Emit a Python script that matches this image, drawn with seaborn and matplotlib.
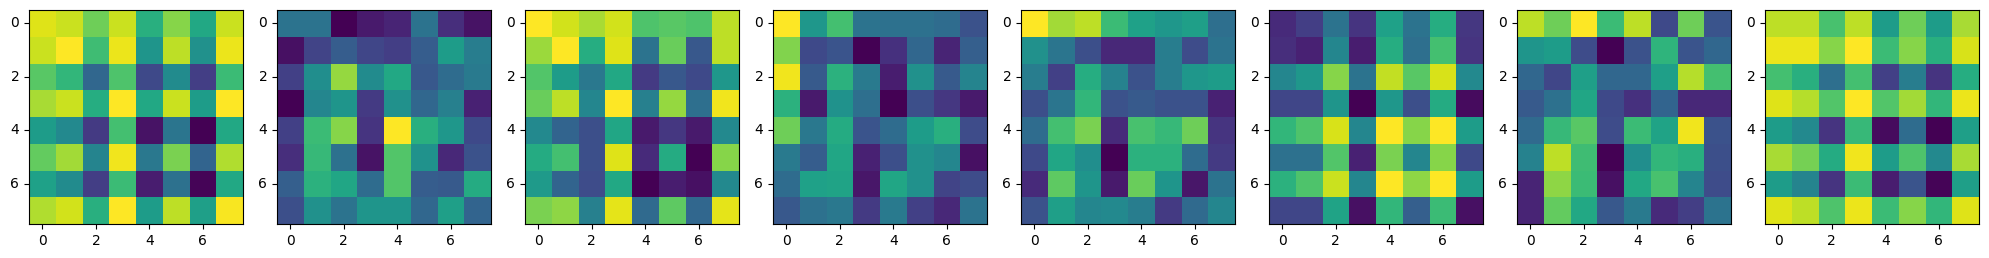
import matplotlib
matplotlib.use("Agg")
import matplotlib.pyplot as plt
import seaborn as sns
import numpy as np

tick_positions = [0, 2, 4, 6]
tick_labels = ["0", "2", "4", "6"]

p1 = [
    [0.95, 0.92, 0.78, 0.92, 0.63, 0.82, 0.60, 0.92],
    [0.92, 1.00, 0.69, 0.97, 0.52, 0.90, 0.50, 0.97],
    [0.74, 0.66, 0.33, 0.72, 0.22, 0.48, 0.18, 0.68],
    [0.87, 0.92, 0.62, 1.00, 0.60, 0.92, 0.55, 1.00],
    [0.55, 0.47, 0.17, 0.70, 0.05, 0.39, 0.00, 0.60],
    [0.76, 0.86, 0.45, 0.98, 0.40, 0.80, 0.32, 0.88],
    [0.57, 0.48, 0.18, 0.68, 0.08, 0.37, 0.01, 0.60],
    [0.88, 0.93, 0.63, 1.00, 0.55, 0.90, 0.56, 0.99],
]
p2 = [
    [0.38, 0.38, 0.00, 0.07, 0.10, 0.38, 0.13, 0.05],
    [0.04, 0.20, 0.29, 0.21, 0.18, 0.29, 0.55, 0.42],
    [0.19, 0.49, 0.84, 0.48, 0.60, 0.27, 0.35, 0.41],
    [0.00, 0.46, 0.52, 0.17, 0.50, 0.33, 0.43, 0.09],
    [0.19, 0.68, 0.82, 0.15, 1.00, 0.63, 0.53, 0.22],
    [0.13, 0.67, 0.37, 0.05, 0.73, 0.51, 0.11, 0.25],
    [0.30, 0.64, 0.59, 0.35, 0.73, 0.29, 0.28, 0.61],
    [0.24, 0.50, 0.38, 0.52, 0.52, 0.33, 0.56, 0.32],
]
p3 = [
    [1.00, 0.93, 0.87, 0.93, 0.72, 0.74, 0.72, 0.90],
    [0.85, 1.00, 0.62, 0.95, 0.38, 0.77, 0.27, 0.90],
    [0.73, 0.55, 0.40, 0.60, 0.17, 0.27, 0.22, 0.53],
    [0.77, 0.90, 0.46, 1.00, 0.43, 0.84, 0.36, 0.98],
    [0.47, 0.32, 0.24, 0.59, 0.07, 0.16, 0.07, 0.47],
    [0.61, 0.70, 0.24, 0.95, 0.12, 0.61, 0.00, 0.82],
    [0.54, 0.32, 0.23, 0.60, 0.00, 0.08, 0.04, 0.47],
    [0.80, 0.83, 0.43, 0.96, 0.34, 0.75, 0.33, 0.96],
]
p4 = [
    [1.00, 0.53, 0.70, 0.38, 0.37, 0.37, 0.35, 0.25],
    [0.81, 0.22, 0.26, 0.00, 0.14, 0.33, 0.10, 0.30],
    [0.98, 0.28, 0.64, 0.41, 0.08, 0.50, 0.28, 0.45],
    [0.64, 0.07, 0.51, 0.36, 0.00, 0.24, 0.16, 0.07],
    [0.78, 0.40, 0.61, 0.26, 0.35, 0.55, 0.63, 0.23],
    [0.41, 0.29, 0.59, 0.09, 0.24, 0.50, 0.46, 0.04],
    [0.35, 0.57, 0.58, 0.06, 0.59, 0.50, 0.20, 0.23],
    [0.27, 0.37, 0.40, 0.17, 0.41, 0.19, 0.11, 0.38],
]
p5 = [
    [1.00, 0.86, 0.90, 0.68, 0.57, 0.53, 0.56, 0.36],
    [0.50, 0.39, 0.24, 0.11, 0.11, 0.42, 0.23, 0.38],
    [0.42, 0.19, 0.62, 0.44, 0.25, 0.42, 0.53, 0.55],
    [0.24, 0.39, 0.66, 0.25, 0.28, 0.25, 0.25, 0.09],
    [0.35, 0.70, 0.80, 0.12, 0.71, 0.67, 0.78, 0.15],
    [0.22, 0.59, 0.49, 0.00, 0.64, 0.64, 0.35, 0.17],
    [0.12, 0.75, 0.52, 0.07, 0.77, 0.52, 0.06, 0.38],
    [0.25, 0.56, 0.46, 0.47, 0.42, 0.17, 0.34, 0.46],
]
p6 = [
    [0.12, 0.18, 0.38, 0.15, 0.57, 0.38, 0.62, 0.16],
    [0.13, 0.09, 0.46, 0.08, 0.62, 0.36, 0.70, 0.15],
    [0.46, 0.53, 0.82, 0.38, 0.91, 0.74, 0.94, 0.47],
    [0.21, 0.21, 0.52, 0.00, 0.53, 0.24, 0.61, 0.03],
    [0.66, 0.72, 0.94, 0.46, 1.00, 0.82, 1.00, 0.55],
    [0.37, 0.37, 0.73, 0.09, 0.80, 0.46, 0.82, 0.22],
    [0.64, 0.72, 0.92, 0.46, 1.00, 0.83, 1.00, 0.55],
    [0.21, 0.21, 0.58, 0.04, 0.66, 0.30, 0.68, 0.04],
]
p7 = [
    [0.90, 0.78, 1.00, 0.68, 0.90, 0.22, 0.78, 0.26],
    [0.52, 0.55, 0.23, 0.00, 0.25, 0.65, 0.26, 0.33],
    [0.33, 0.21, 0.56, 0.33, 0.33, 0.56, 0.89, 0.70],
    [0.28, 0.37, 0.59, 0.22, 0.14, 0.32, 0.11, 0.11],
    [0.34, 0.67, 0.74, 0.23, 0.68, 0.58, 0.98, 0.25],
    [0.44, 0.90, 0.69, 0.00, 0.49, 0.66, 0.63, 0.24],
    [0.10, 0.83, 0.68, 0.04, 0.60, 0.71, 0.45, 0.23],
    [0.10, 0.76, 0.60, 0.27, 0.41, 0.12, 0.18, 0.38],
]
p8 = [
    [0.90, 0.90, 0.71, 0.90, 0.55, 0.78, 0.55, 0.87],
    [0.97, 0.97, 0.82, 1.00, 0.68, 0.82, 0.63, 0.94],
    [0.70, 0.63, 0.36, 0.70, 0.19, 0.42, 0.15, 0.62],
    [0.95, 0.89, 0.73, 1.00, 0.73, 0.86, 0.66, 0.97],
    [0.55, 0.47, 0.15, 0.67, 0.03, 0.35, 0.00, 0.56],
    [0.87, 0.79, 0.61, 0.98, 0.55, 0.72, 0.47, 0.87],
    [0.55, 0.45, 0.15, 0.68, 0.08, 0.26, 0.01, 0.56],
    [0.95, 0.90, 0.72, 0.97, 0.68, 0.82, 0.66, 0.95],
]
panels = [p1, p2, p3, p4, p5, p6, p7, p8]

W, H = 1989, 258
fig = plt.figure(figsize=(W / 100, H / 100), dpi=100)
ax_left0, ax_step, ax_size, ax_top = 29, 248, 214, 10

for i, data in enumerate(panels):
    rect = [(ax_left0 + ax_step * i) / W, (H - ax_top - ax_size) / H, ax_size / W, ax_size / H]
    ax = fig.add_axes(rect)
    sns.heatmap(np.array(data), ax=ax, cmap="viridis", cbar=False)
    ax.set_xticks([t + 0.5 for t in tick_positions])
    ax.set_xticklabels(tick_labels, rotation=0)
    ax.set_yticks([t + 0.5 for t in tick_positions])
    ax.set_yticklabels(tick_labels, rotation=0)
    ax.tick_params(axis="both", length=3.5, width=0.8, direction="out",
                   bottom=True, left=True, labelsize=10, colors="black")
    for s in ax.spines.values():
        s.set_visible(True)
        s.set_linewidth(0.8)
        s.set_color("black")
    ax.set_xlabel("")
    ax.set_ylabel("")

fig.savefig("out.png", dpi=100)
